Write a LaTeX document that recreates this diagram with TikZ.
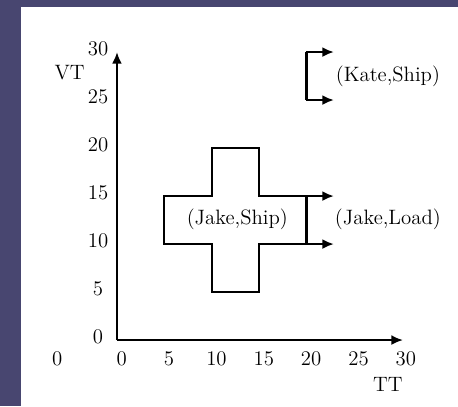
\documentclass[tikz,border=0pt]{standalone}
\usetikzlibrary{arrows.meta}
\definecolor{slidebg}{RGB}{72,70,112}
\tikzset{
  curve/.style={line width=1.3pt},
  tip/.style={line width=1.3pt, -{Latex[length=7pt,width=6pt]}},
  lbl/.style={font=\fontsize{12.5}{14}\selectfont, inner sep=0pt}
}
\begin{document}
\begin{tikzpicture}[x=0.2cm, y=0.2027cm]
  \fill[slidebg] (-12.35,-6.875) rectangle (36.0,35.42);
  \fill[white] (-10.14,-6.875) rectangle (36.0,34.69);
  \useasboundingbox (-12.35,-6.875) rectangle (36.0,35.42);
  % axes
  \coordinate (o) at (0,0);
  \coordinate (xend) at (30.2,0);
  \coordinate (yend) at (0,30);
  \draw[tip] (o) -- (xend);
  \draw[tip] (o) -- (yend);
  \foreach \y in {0,5,...,30} \node[lbl] at (-2,\y+0.3) {\y};
  \foreach \x in {0,5,...,30} \node[lbl] at (\x+0.5,-2) {\x};
  \node[lbl] (zero) at (-6.3,-2) {0};
  \node[lbl] (vt) at (-5,27.9) {VT};
  \node[lbl] (tt) at (28.6,-4.6) {TT};
  % the cross
  \draw[curve] (5,10) -- (5,15) -- (10,15) -- (10,20) -- (15,20) -- (15,15)
    -- (20,15) -- (20,10) -- (15,10) -- (15,5) -- (10,5) -- (10,10) -- cycle;
  \node[lbl] (jship) at (12.7,12.6) {(Jake,Ship)};
  \draw[tip] (15,15) -- (22.9,15);
  \draw[tip] (15,10) -- (22.9,10);
  \node[lbl] (jload) at (28.6,12.6) {(Jake,Load)};
  % the bracket
  \draw[curve] (20,30) -- (20,25);
  \draw[tip] (19.95,30) -- (22.9,30);
  \draw[tip] (19.95,25) -- (22.9,25);
  \node[lbl] (kship) at (28.6,27.5) {(Kate,Ship)};
\end{tikzpicture}
\end{document}
